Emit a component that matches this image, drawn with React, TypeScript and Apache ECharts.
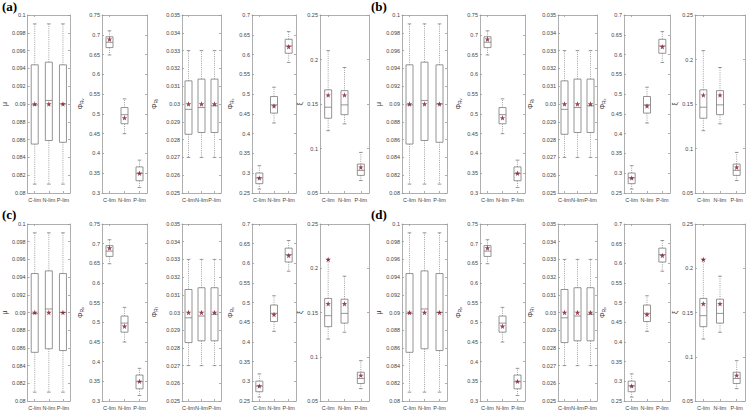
import React, { useEffect, useRef } from 'react';
import * as echarts from 'echarts';

const CATEGORIES = ['C-lim', 'N-lim', 'P-lim'];

// box stats per category: [lower whisker, Q1, median, Q3, upper whisker]
const muBox = [
  [0.081, 0.0855, 0.0899, 0.0944, 0.099],
  [0.081, 0.0859, 0.0904, 0.0947, 0.099],
  [0.081, 0.0857, 0.09, 0.0944, 0.099],
];
const muMean = [0.09, 0.09, 0.09];

const phiRvBox = [
  [0.649, 0.6676, 0.681, 0.695, 0.71],
  [0.45, 0.475, 0.498, 0.516, 0.538],
  [0.314, 0.331, 0.349, 0.366, 0.383],
];
const phiRvMean = [0.689, 0.49, 0.35];

const phiRlBox = [
  [0.027, 0.0283, 0.0297, 0.0313, 0.033],
  [0.027, 0.0284, 0.0298, 0.0314, 0.033],
  [0.027, 0.0284, 0.0299, 0.0314, 0.033],
];
const phiRlMean = [0.03, 0.03, 0.03];

const phiRsBox = [
  [0.26, 0.2736, 0.288, 0.3005, 0.319],
  [0.427, 0.452, 0.473, 0.494, 0.5175],
  [0.58, 0.6033, 0.622, 0.6386, 0.658],
];
const phiRsMean = [0.288, 0.47, 0.62];

const xiBox = [
  [0.12, 0.134, 0.1464, 0.1659, 0.21],
  [0.1277, 0.138, 0.149, 0.165, 0.191],
  [0.064, 0.0698, 0.0754, 0.0825, 0.0956],
];
const xiMean = [0.16, 0.16, 0.079];
const xiExtraStar = [[0, 0.21]]; // extra marker shown in panels (c) and (d)

const PANEL_LABELS = ['(a)', '(b)', '(c)', '(d)'];

const SUBPLOTS = [
  { name: 'μ', box: muBox, mean: muMean, min: 0.08, max: 0.1, interval: 0.002, gap: 8 },
  { name: '{a|Φ}{b|R}{c|v}', box: phiRvBox, mean: phiRvMean, min: 0.3, max: 0.75, interval: 0.05, gap: 18 },
  { name: '{a|Φ}{b|R}{c|l}', box: phiRlBox, mean: phiRlMean, min: 0.025, max: 0.035, interval: 0.001, gap: 24 },
  { name: '{a|Φ}{b|R}{c|s}', box: phiRsBox, mean: phiRsMean, min: 0.25, max: 0.7, interval: 0.05, gap: 18 },
  { name: 'ξ', box: xiBox, mean: xiMean, min: 0.05, max: 0.25, interval: 0.05, gap: 12 },
];

const COL_X = [
  [[24, 70], [102, 147], [182, 221], [252, 296], [320, 369]],
  [[402, 447], [480, 525], [558, 597], [624, 670], [695, 745]],
];
const ROW_Y = [[15, 193], [224, 402]];

const STAR = 'path://M0,-10 L2.35,-3.24 L9.51,-3.09 L3.8,1.24 L5.88,8.09 L0,4 L-5.88,8.09 L-3.8,1.24 L-9.51,-3.09 L-2.35,-3.24 Z';
const AXIS_COLOR = '#9a9a9a';
const LABEL_COLOR = '#444';
const BOX_COLOR = '#7a7a7a';
const STAR_COLOR = '#7f1426';
const FONT = 'Liberation Sans';

function renderBox(params: any, api: any) {
  const idx = api.value(0);
  const lo = api.coord([idx, api.value(1)]);
  const q1 = api.coord([idx, api.value(2)]);
  const med = api.coord([idx, api.value(3)]);
  const q3 = api.coord([idx, api.value(4)]);
  const hi = api.coord([idx, api.value(5)]);
  const cx = lo[0];
  const half = 3.5;
  const cap = 1.8;
  const solid = { stroke: BOX_COLOR, lineWidth: 0.8, fill: 'none' };
  const dotted = { stroke: '#8a8a8a', lineWidth: 0.8, lineDash: [1, 1.2] };
  return {
    type: 'group',
    children: [
      { type: 'line', shape: { x1: cx, y1: q1[1], x2: cx, y2: lo[1] }, style: dotted },
      { type: 'line', shape: { x1: cx, y1: q3[1], x2: cx, y2: hi[1] }, style: dotted },
      { type: 'line', shape: { x1: cx - cap, y1: lo[1], x2: cx + cap, y2: lo[1] }, style: solid },
      { type: 'line', shape: { x1: cx - cap, y1: hi[1], x2: cx + cap, y2: hi[1] }, style: solid },
      { type: 'rect', shape: { x: cx - half, y: q3[1], width: half * 2, height: q1[1] - q3[1] }, style: solid },
      { type: 'line', shape: { x1: cx - half, y1: med[1], x2: cx + half, y2: med[1] }, style: solid },
    ],
  };
}

export default function App() {
  const ref = useRef<HTMLDivElement>(null);
  useEffect(() => {
    if (!ref.current) return;
    const chart = echarts.init(ref.current, null, { renderer: 'svg' });
    const grid: any[] = [];
    const xAxis: any[] = [];
    const yAxis: any[] = [];
    const series: any[] = [];
    const graphic: any[] = [];
    let g = 0;
    for (let p = 0; p < 4; p++) {
      const row = Math.floor(p / 2);
      const col = p % 2;
      graphic.push({
        type: 'text',
        left: col === 0 ? 2 : 371,
        top: row === 0 ? 0 : 208,
        style: { text: PANEL_LABELS[p], font: 'bold 13px "Liberation Serif"', fill: '#000' },
      });
      SUBPLOTS.forEach((s, si) => {
        const [x0, x1] = COL_X[col][si];
        const [y0, y1] = ROW_Y[row];
        grid.push({ left: x0, top: y0, width: x1 - x0, height: y1 - y0, containLabel: false });
        const tick = { show: true, inside: true, length: 2, lineStyle: { color: AXIS_COLOR, width: 0.8 } };
        const line = { show: true, lineStyle: { color: AXIS_COLOR, width: 0.8 } };
        xAxis.push({
          type: 'category', gridIndex: g, data: CATEGORIES, position: 'bottom',
          axisLine: line, axisTick: { ...tick, alignWithLabel: true },
          axisLabel: { interval: 0, fontSize: 5.5, color: LABEL_COLOR, margin: 4, fontFamily: FONT },
          splitLine: { show: false },
        });
        xAxis.push({
          type: 'category', gridIndex: g, data: CATEGORIES, position: 'top',
          axisLine: line, axisTick: { ...tick, alignWithLabel: true },
          axisLabel: { show: false }, splitLine: { show: false },
        });
        yAxis.push({
          type: 'value', gridIndex: g, min: s.min, max: s.max, interval: s.interval, position: 'left',
          axisLine: line, axisTick: tick,
          axisLabel: { fontSize: 5.5, color: LABEL_COLOR, margin: 2, fontFamily: FONT },
          splitLine: { show: false },
          name: s.name, nameLocation: 'middle', nameRotate: 90, nameGap: s.gap,
          nameTextStyle: {
            fontSize: 7, color: '#333', fontFamily: FONT,
            rich: {
              a: { fontSize: 7, color: '#333', fontFamily: FONT },
              b: { fontSize: 5, color: '#333', fontFamily: FONT, verticalAlign: 'bottom' },
              c: { fontSize: 4, color: '#333', fontFamily: FONT, verticalAlign: 'bottom' },
            },
          },
        });
        yAxis.push({
          type: 'value', gridIndex: g, min: s.min, max: s.max, interval: s.interval, position: 'right',
          axisLine: line, axisTick: tick, axisLabel: { show: false }, splitLine: { show: false },
        });
        series.push({
          type: 'custom', xAxisIndex: 2 * g, yAxisIndex: 2 * g, silent: true,
          renderItem: renderBox,
          encode: { x: 0, y: [1, 2, 3, 4, 5] },
          data: s.box.map((b, i) => [i, ...b]),
          z: 2,
        });
        series.push({
          type: 'scatter', xAxisIndex: 2 * g, yAxisIndex: 2 * g, silent: true,
          symbol: STAR, symbolSize: 5.5,
          itemStyle: { color: STAR_COLOR },
          data: s.mean.map((m, i) => [i, m]),
          z: 3,
        });
        if (si === 4 && row === 1) {
          series.push({
            type: 'scatter', xAxisIndex: 2 * g, yAxisIndex: 2 * g, silent: true,
            symbol: STAR, symbolSize: 5.5,
            itemStyle: { color: STAR_COLOR },
            data: xiExtraStar,
            z: 3,
          });
        }
        g++;
      });
    }
    chart.setOption({
      animation: false,
      backgroundColor: '#fff',
      grid, xAxis, yAxis, series, graphic,
    });
    return () => chart.dispose();
  }, []);
  return <div ref={ref} style={{ position: 'absolute', left: 0, top: 0, width: 748, height: 411 }} />;
}
